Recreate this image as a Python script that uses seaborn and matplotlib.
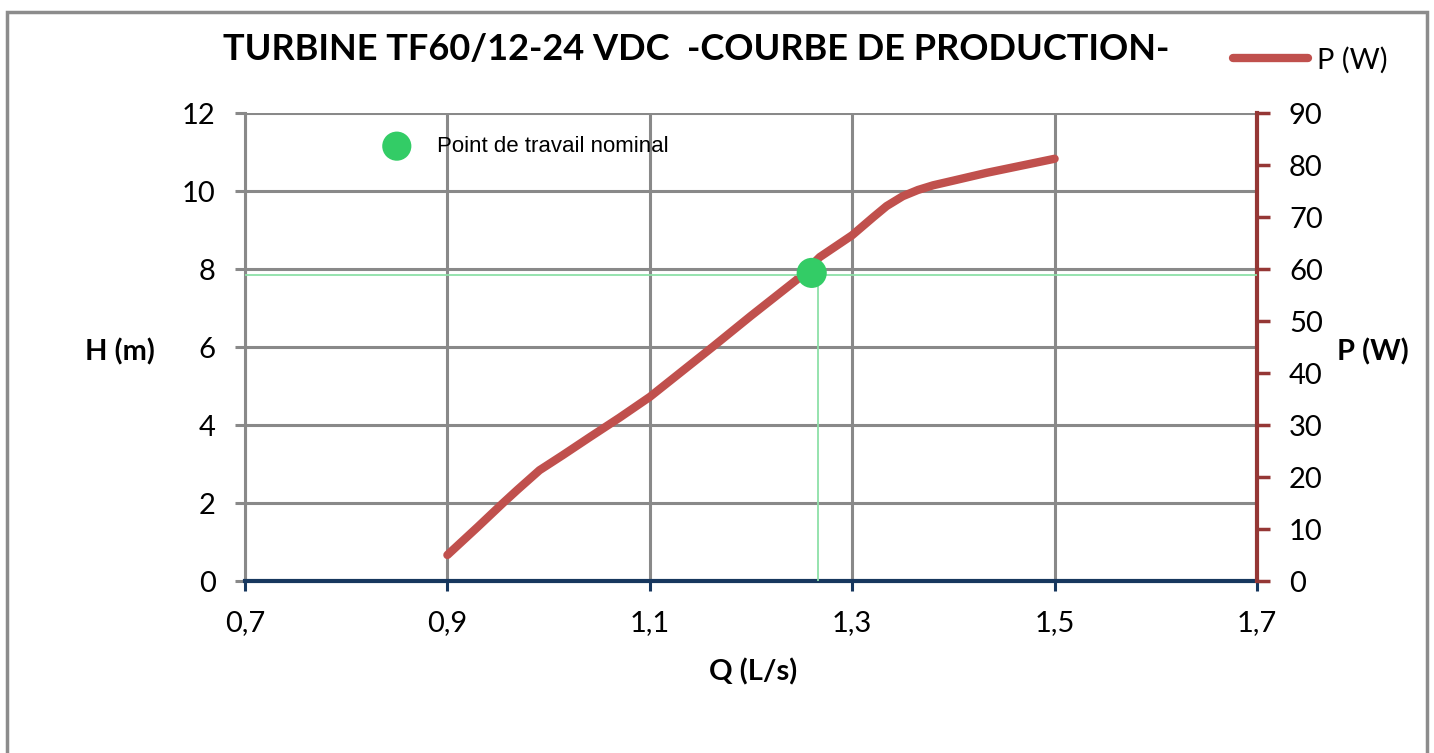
#!/usr/bin/env python3
# -*- coding: utf-8 -*-
# Production curve of the TF60 turbine: P(W) against Q(L/s), nominal point marked.

import matplotlib
matplotlib.use("Agg")
import matplotlib.pyplot as plt
from matplotlib.patches import Rectangle
from matplotlib.ticker import FixedLocator, FuncFormatter
import pandas as pd
import seaborn as sns

# values
q_flow = [0.9, 0.93, 0.955, 0.969, 0.991, 1.014, 1.041, 1.07, 1.1, 1.162, 1.2,
          1.245, 1.268, 1.3, 1.321, 1.334, 1.35, 1.365, 1.38, 1.4, 1.433, 1.5]
p_watt = [5.0, 10.4, 15.0, 17.5, 21.3, 24.2, 27.7, 31.4, 35.4, 45.0, 51.0,
          57.9, 62.3, 66.5, 70.0, 72.1, 74.0, 75.2, 76.1, 77.0, 78.5, 81.2]

nominal_q = [1.26]
nominal_h = [7.9]
guide_q = 1.266
guide_h = 7.85

note_q = [0.85]
note_h = [11.15]
note_text = "Point de travail nominal"

q_ticks = [0.7, 0.9, 1.1, 1.3, 1.5, 1.7]
h_ticks = [0, 2, 4, 6, 8, 10, 12]
p_ticks = [0, 10, 20, 30, 40, 50, 60, 70, 80, 90]

title = "TURBINE TF60/12-24 VDC  -COURBE DE PRODUCTION-"

sns.set_style("white")
plt.rcParams["font.family"] = ["Lato", "DejaVu Sans"]
plt.rcParams["text.color"] = "black"
plt.rcParams["axes.labelcolor"] = "black"
plt.rcParams["xtick.labelcolor"] = "black"
plt.rcParams["ytick.labelcolor"] = "black"

W, H = 1434, 753
fig = plt.figure(figsize=(W / 100, H / 100), dpi=100)
ax = fig.add_axes([245 / W, 1 - 581 / H, (1257 - 245) / W, (581 - 113) / H])

grey = "#898989"
navy = "#17375e"
dark_red = "#953735"
red = "#c0504d"
green = "#33cc66"

# left axis: H (m) with the grid
ax.set_xlim(0.7, 1.7)
ax.set_ylim(0, 12)
ax.xaxis.set_major_locator(FixedLocator(q_ticks))
ax.yaxis.set_major_locator(FixedLocator(h_ticks))
comma = FuncFormatter(lambda v, pos: ("%g" % v).replace(".", ","))
ax.xaxis.set_major_formatter(comma)
ax.grid(True, color=grey, lw=2.2)
ax.set_axisbelow(True)
for s in ["top", "right"]:
    ax.spines[s].set_visible(False)
ax.spines["left"].set_color(grey)
ax.spines["left"].set_linewidth(2.2)
ax.spines["bottom"].set_color(navy)
ax.spines["bottom"].set_linewidth(3)
ax.spines["bottom"].set_zorder(5)
ax.tick_params(axis="y", length=7, width=2.2, color=grey, pad=14, labelsize=21, left=True)
ax.tick_params(axis="x", length=7, width=2.2, color=navy, pad=14, labelsize=21, bottom=True)
ax.set_ylabel("H (m)", fontsize=21, fontweight="bold", rotation=0, ha="center", va="center")
ax.yaxis.set_label_coords((120 - 245) / 1012, (581 - 352) / 468)
ax.set_xlabel("Q (L/s)", fontsize=21, fontweight="bold", va="center")
ax.xaxis.set_label_coords((753 - 245) / 1012, (581 - 672) / 468)

# right axis: P (W) with the curve
ax2 = ax.twinx()
ax2.set_ylim(0, 90)
ax2.yaxis.set_major_locator(FixedLocator(p_ticks))
for s in ["top", "left", "bottom"]:
    ax2.spines[s].set_visible(False)
ax2.spines["right"].set_color(dark_red)
ax2.spines["right"].set_linewidth(3)
ax2.tick_params(axis="y", length=9, width=2.5, color=dark_red, pad=14, labelsize=21, right=True)
df = pd.DataFrame({"Q": q_flow, "P": p_watt})
sns.lineplot(data=df, x="Q", y="P", ax=ax2, color=red, lw=6, sort=False,
             estimator=None, solid_capstyle="round", solid_joinstyle="round", label="P (W)")
ax2.set_ylabel("P (W)", fontsize=21, fontweight="bold", rotation=0, ha="center", va="center")
ax2.yaxis.set_label_coords((1373 - 245) / 1012, (581 - 352) / 468)
ax2.set_xlabel("")
ax2.legend(loc="center left", bbox_to_anchor=(1218 / W, 1 - 60 / H),
           bbox_transform=fig.transFigure, frameon=False, fontsize=21,
           handlelength=2.6, handletextpad=0.3, borderpad=0)

# top layer in H units: nominal point, guide lines, note
ax3 = ax.twinx()
ax3.set_ylim(0, 12)
ax3.axis("off")
ax3.plot([0.7, 1.7], [guide_h, guide_h], color="#8ee0a8", lw=1.3)
ax3.plot([guide_q, guide_q], [0, guide_h], color="#8ee0a8", lw=1.3)
sns.scatterplot(x=nominal_q, y=nominal_h, ax=ax3, color=green, s=470, edgecolor="none", zorder=6)
sns.scatterplot(x=note_q, y=note_h, ax=ax3, color=green, s=440, edgecolor="none")
ax3.text(note_q[0] + 0.04, note_h[0], note_text, fontsize=16, va="center",
         family=["Liberation Sans", "DejaVu Sans"])

fig.text(696 / W, 1 - 60 / H, title, fontsize=26, fontweight="bold", ha="center", va="baseline")

fig.add_artist(Rectangle((7 / W, -0.1), (1427 - 7) / W, (753 - 12) / H + 0.1,
                         transform=fig.transFigure, fill=False, ec="#8c8c8c", lw=2.5))

fig.savefig("out.png", dpi=100)
